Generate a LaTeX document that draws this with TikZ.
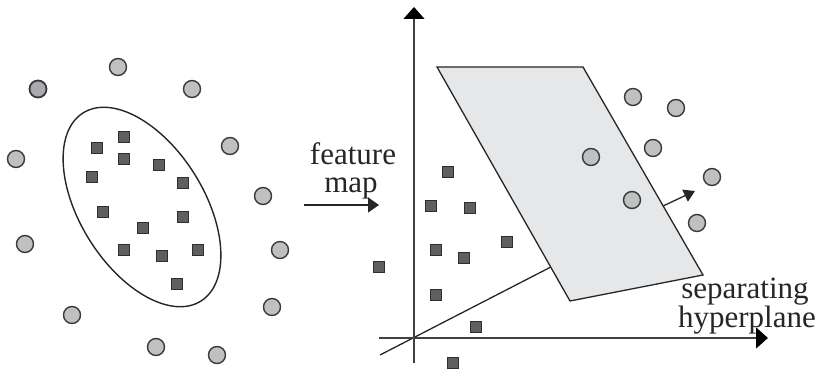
\documentclass[tikz,border=0pt]{standalone}
\usepackage{fontspec}
\setmainfont{Liberation Serif}
\usetikzlibrary{shapes.geometric,arrows.meta}
\definecolor{ptfill}{HTML}{BEC0C2}
\definecolor{ptfilldark}{HTML}{A9ABAE}
\definecolor{ptline}{HTML}{3A3A3A}
\definecolor{sqfill}{HTML}{5E5F61}
\definecolor{planefill}{HTML}{E6E7E8}
\tikzset{
  circpt/.style={circle,draw=ptline,fill=ptfill,line width=1.4pt,minimum size=17pt,inner sep=0pt},
  sqpt/.style={rectangle,draw=ptline!80!black,fill=sqfill,line width=1.2pt,minimum size=10.5pt,inner sep=0pt},
  axis/.style={line width=1.4pt,draw=black!75,-{Triangle[width=21pt,length=12pt,color=black]}},
  thinline/.style={line width=1.3pt,draw=black!85},
  lbl/.style={font=\fontsize{31}{28}\selectfont,inner sep=0pt,anchor=base,text=black!85}
}
\begin{document}
\begin{tikzpicture}[x=1pt,y=-1pt]
\useasboundingbox (0,0) rectangle (822,371);
% ---------- left panel ----------
\node[ellipse,draw=black!85,line width=1.4pt,minimum width=222pt,minimum height=124pt,inner sep=0pt,rotate=-58] (ell) at (142,207) {};
\foreach \n/\x/\y in {c1/118/67,c3/192/89,c4/16/159,c5/230/146,c6/263/196,c7/25/244,c8/280/250,c9/72/315,c10/272/307,c11/156/347,c12/217/355}
  \node[circpt] (\n) at (\x,\y) {};
\node[circpt,fill=ptfilldark,line width=1.8pt] (c2) at (38,89) {};
\foreach \n/\x/\y in {s1/124/137,s2/97/148,s3/124/159,s4/159/165,s5/92/177,s6/183/183,s7/103/212,s8/183/217,s9/143/228,s10/124/250,s11/162/256,s12/198/250,s13/177/284}
  \node[sqpt] (\n) at (\x,\y) {};
% ---------- feature map ----------
\coordinate (fmA) at (304,205);
\coordinate (fmB) at (379,205);
\draw[line width=1.4pt,draw=black!85,-{Triangle[width=15pt,length=11pt]}] (fmA) -- (fmB);
\node[lbl] (feat) at (353,165) {feature};
\node[lbl] (map) at (351,193) {map};
% ---------- right panel ----------
\coordinate (pTL) at (437,67);
\coordinate (pTR) at (583,67);
\coordinate (pBR) at (703,275);
\coordinate (pBL) at (570,301);
\filldraw[thinline,fill=planefill] (pTL) -- (pTR) -- (pBR) -- (pBL) -- cycle;
\path (pTL) -- (pBL) coordinate[pos=0.855] (hp);
\path (pTR) -- (pBR) coordinate[pos=0.668] (nv);
\coordinate (o1) at (380,355);
\draw[thinline] (o1) -- (hp);
\coordinate (yb) at (414,363);
\coordinate (yt) at (414,7);
\coordinate (xl) at (379,338);
\coordinate (xr) at (768,338);
\draw[axis] (yb) -- (yt);
\draw[axis] (xl) -- (xr);
\coordinate (nvt) at (695,191);
\draw[thinline,-{Triangle[width=13pt,length=11pt]}] (nv) -- (nvt);
\foreach \n/\x/\y in {r1/633/97,r2/676/108,r3/653/148,r4/591/157,r5/712/177,r6/632/200,r7/697/223}
  \node[circpt] (\n) at (\x,\y) {};
\foreach \n/\x/\y in {q1/448/172,q2/431/206,q3/470/208,q4/507/242,q5/436/250,q6/464/258,q7/379/267,q8/436/295,q9/476/327,q10/453/363}
  \node[sqpt] (\n) at (\x,\y) {};
\node[lbl] (sep) at (745,299) {separating};
\node[lbl] (hyp) at (747,327) {hyperplane};
\end{tikzpicture}
\end{document}
